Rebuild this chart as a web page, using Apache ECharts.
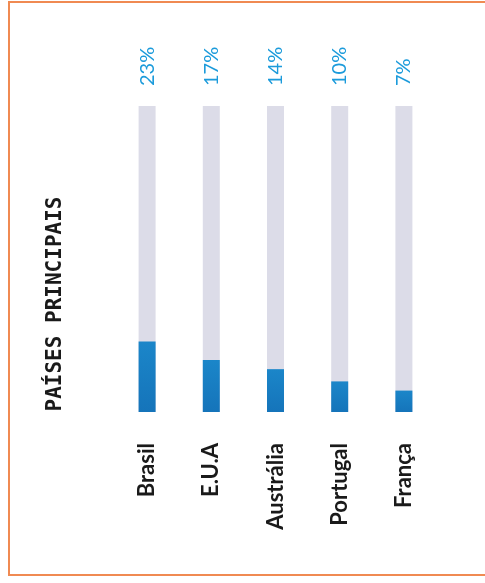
<!DOCTYPE html>
<html>
<head>
<meta charset="utf-8">
<script src="https://cdn.jsdelivr.net/npm/echarts@6/dist/echarts.min.js"></script>
<style>
html,body{margin:0;padding:0;background:#ffffff;}
#chart{width:485px;height:583px;}
</style>
</head>
<body>
<div id="chart"></div>
<script>
const categories = ['Brasil', 'E.U.A', 'Austrália', 'Portugal', 'França'];
const shares = [23, 17, 14, 10, 7];
const trackMax = [100, 100, 100, 100, 100];
const valueLabels = ['23%', '17%', '14%', '10%', '7%'];
const titleText = 'PAÍSES PRINCIPAIS';

const chart = echarts.init(document.getElementById('chart'));
chart.setOption({
  backgroundColor: '#ffffff',
  animation: false,
  grid: { left: 115, right: 49, top: 106, bottom: 171 },
  xAxis: {
    type: 'category',
    data: categories,
    axisLine: { show: false },
    axisTick: { show: false },
    axisLabel: {
      rotate: 90,
      margin: 31,
      color: '#1a1a1a',
      fontFamily: 'Lato',
      fontWeight: 'bold',
      fontSize: 22
    }
  },
  yAxis: {
    type: 'value',
    min: 0,
    max: 100,
    show: false
  },
  series: [
    {
      type: 'bar',
      data: trackMax,
      barWidth: 17,
      barGap: '-100%',
      silent: true,
      itemStyle: { color: '#dcdce8' },
      label: {
        show: true,
        position: 'top',
        distance: 20,
        rotate: 90,
        align: 'left',
        verticalAlign: 'middle',
        color: '#1c9bdb',
        fontFamily: 'Lato',
        fontSize: 20,
        formatter: function (p) { return valueLabels[p.dataIndex]; }
      },
      z: 1
    },
    {
      type: 'bar',
      data: shares,
      barWidth: 17,
      itemStyle: {
        color: {
          type: 'linear', x: 0, y: 0, x2: 0, y2: 1,
          colorStops: [
            { offset: 0, color: '#1b86c9' },
            { offset: 1, color: '#1574ba' }
          ]
        }
      },
      z: 2
    }
  ],
  graphic: [
    {
      type: 'rect',
      shape: { x: 9, y: 2, width: 520, height: 573 },
      style: { fill: 'none', stroke: '#f08a52', lineWidth: 2 },
      silent: true
    },
    {
      type: 'text',
      x: 56,
      y: 304,
      rotation: Math.PI / 2,
      style: {
        text: titleText,
        fill: '#1a1a1a',
        font: 'bold 21px "DejaVu Sans Mono"',
        align: 'center',
        verticalAlign: 'middle'
      }
    }
  ]
});
</script>
</body>
</html>
